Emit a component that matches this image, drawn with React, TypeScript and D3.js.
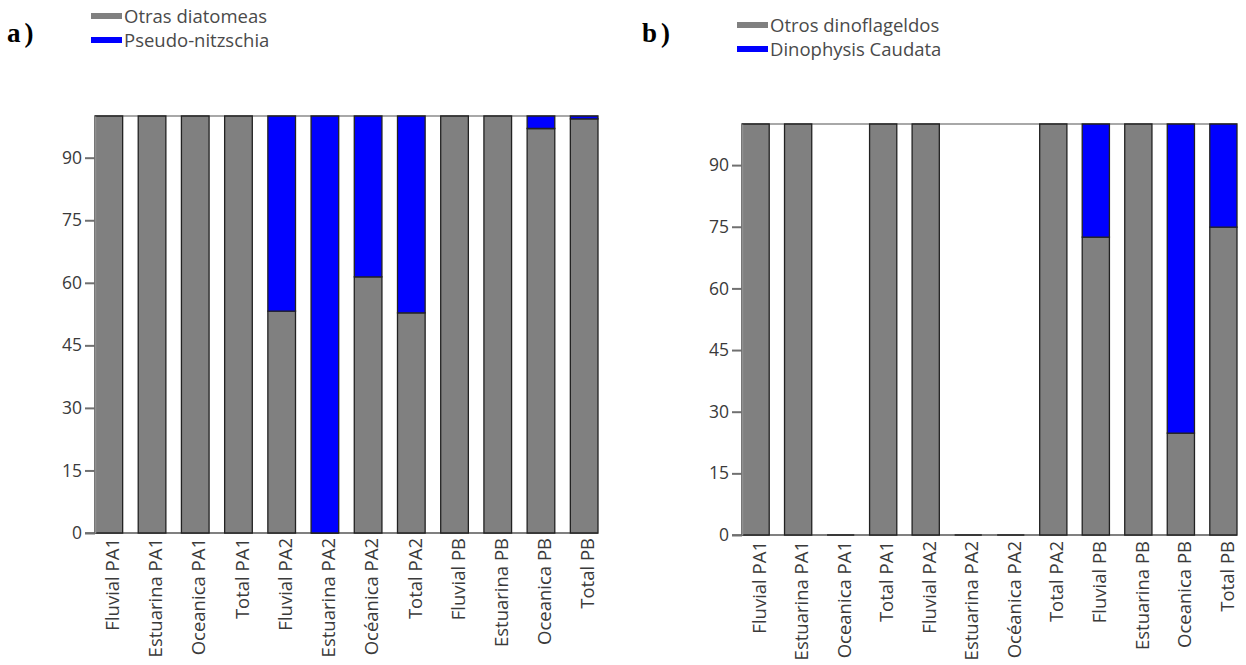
import React, {useEffect, useRef} from 'react'
import * as d3 from 'd3'

// categorias del eje x (iguales en ambos paneles)
const categorias = ['Fluvial PA1', 'Estuarina PA1', 'Oceanica PA1', 'Total PA1', 'Fluvial PA2', 'Estuarina PA2', 'Océanica PA2', 'Total PA2', 'Fluvial PB', 'Estuarina PB', 'Oceanica PB', 'Total PB'];

// panel a) diatomeas (%)
const otrasDiatomeas = [100, 100, 100, 100, 53.2, 0, 61.4, 52.8, 100, 100, 97, 99.3];
const pseudoNitzschia = [0, 0, 0, 0, 46.8, 100, 38.6, 47.2, 0, 0, 3, 0.7];

// panel b) dinoflagelados (%)
const otrosDinoflagelados = [100, 100, 0, 100, 100, 0, 0, 100, 72.5, 100, 24.8, 74.9];
const dinophysisCaudata = [0, 0, 0, 0, 0, 0, 0, 0, 27.5, 0, 75.2, 25.1];

const yTicks = [0, 15, 30, 45, 60, 75, 90];

const GRIS = '#808080';
const AZUL = '#0000ff';
const FONT = '"Open Sans", "Noto Sans", sans-serif';

const drawPanel = (svg, cfg) => {
  const g = svg.append('g');

  const x = d3.scaleBand()
    .domain(categorias)
    .range(cfg.xRange)
    .paddingInner(0.36)
    .paddingOuter(0);

  const y = d3.scaleLinear()
    .domain([0, 100])
    .range(cfg.yRange);

  // top border line
  g.append('line')
    .attr('x1', cfg.xRange[0]).attr('x2', cfg.xRange[1])
    .attr('y1', y(100)).attr('y2', y(100))
    .attr('stroke', '#a8a8a8').attr('stroke-width', 2);

  // x axis baseline (under the bars so empty bars still show their outline)
  g.append('line')
    .attr('x1', cfg.xRange[0] - 10).attr('x2', cfg.xRange[1])
    .attr('y1', y(0)).attr('y2', y(0))
    .attr('stroke', '#808080').attr('stroke-width', 2);

  // stacked bars
  const rows = categorias.map((c, i) => ({cat: c, base: cfg.base[i], top: cfg.top[i]}));
  const stack = d3.stack().keys(['base', 'top'])(rows);
  const colors = [GRIS, AZUL];

  stack.forEach((layer, li) => {
    g.append('g')
      .selectAll('path')
      .data(layer)
      .join('path')
      .filter((d, i) => li === 0 || d[1] - d[0] > 0)
      .attr('d', d => {
        const x0 = x(d.data.cat);
        const w = x.bandwidth();
        return `M${x0},${y(d[0])}h${w}V${y(d[1])}h${-w}Z`;
      })
      .attr('fill', colors[li])
      .attr('stroke', '#222')
      .attr('stroke-width', 1.3);
  });

  // y axis
  const yAxis = d3.axisLeft(y)
    .tickValues(yTicks)
    .tickSize(10)
    .tickSizeOuter(0)
    .tickPadding(3);

  const ya = g.append('g')
    .attr('transform', `translate(${cfg.xRange[0]},0)`)
    .call(yAxis);
  ya.select('.domain').attr('stroke', '#909090').attr('stroke-width', 1.5);
  ya.selectAll('.tick line').attr('stroke', '#707070').attr('stroke-width', 2);
  ya.selectAll('.tick text')
    .attr('fill', '#3a3a3a')
    .style('font-family', FONT)
    .style('font-size', '17.5px');

  // x labels
  g.append('g')
    .selectAll('text')
    .data(categorias)
    .join('text')
    .attr('transform', d => `translate(${x(d) + x.bandwidth() / 2},${y(0) + cfg.labelGap}) rotate(-90)`)
    .attr('text-anchor', 'end')
    .attr('dy', '0.55em')
    .attr('fill', '#3a3a3a')
    .style('font-family', FONT)
    .style('font-size', '18.5px')
    .text(d => d);

  // legend
  const leg = g.append('g');
  cfg.legend.forEach((name, i) => {
    const cy = cfg.legendY + i * 24;
    leg.append('rect')
      .attr('x', cfg.legendX).attr('y', cy - 3)
      .attr('width', 31).attr('height', 6)
      .attr('fill', colors[i]);
    leg.append('text')
      .attr('x', cfg.legendX + 33).attr('y', cy)
      .attr('dy', '0.36em')
      .attr('fill', '#4a4a4a')
      .style('font-family', FONT)
      .style('font-size', '18.5px')
      .text(name);
  });

  // panel letter
  g.append('text')
    .attr('x', cfg.letterX).attr('y', 42)
    .attr('font-family', '"Liberation Serif", "Times New Roman", serif')
    .attr('font-weight', 'bold')
    .attr('font-size', 27)
    .attr('letter-spacing', 4)
    .attr('fill', '#000')
    .text(cfg.letter);
};

const App = () => {
  const ref = useRef(null);

  useEffect(() => {
    const svg = d3.select(ref.current);
    svg.selectAll('*').remove();

    drawPanel(svg, {
      xRange: [95, 598],
      yRange: [533, 116],
      base: otrasDiatomeas,
      top: pseudoNitzschia,
      legend: ['Otras diatomeas', 'Pseudo-nitzschia'],
      legendX: 91,
      legendY: 16,
      letter: 'a)',
      letterX: 7,
      labelGap: 5,
    });

    drawPanel(svg, {
      xRange: [742, 1237],
      yRange: [535, 124],
      base: otrosDinoflagelados,
      top: dinophysisCaudata,
      legend: ['Otros dinoflageldos', 'Dinophysis Caudata'],
      legendX: 737,
      legendY: 25,
      letter: 'b)',
      letterX: 642,
      labelGap: 6,
    });

    return () => {
      svg.selectAll('*').remove();
    }
  }, []);

  return (
    <svg ref={ref} width={1246} height={665}
      style={{position: 'absolute', left: 0, top: 0, background: '#fff'}} />
  )
}

export default App
